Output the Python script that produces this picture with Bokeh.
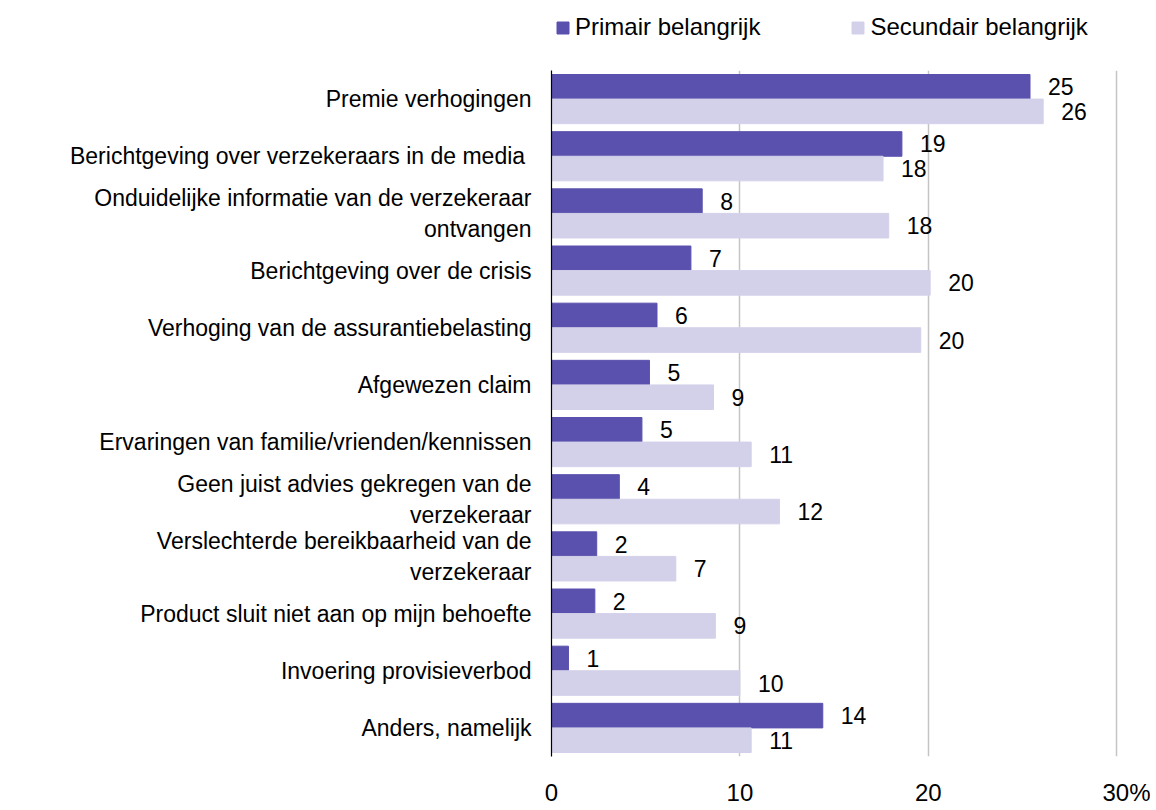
from bokeh.plotting import figure
from bokeh.models import ColumnDataSource, FactorRange, Range1d, FixedTicker, Legend, LegendItem
from bokeh.layouts import column
from bokeh.transform import dodge
from bokeh.core.properties import value
from bokeh.embed import file_html
from bokeh.resources import INLINE

categories = [
    "Premie verhogingen",
    "Berichtgeving over verzekeraars  in de media",
    "Onduidelijke informatie van de verzekeraar\nontvangen",
    "Berichtgeving over de crisis",
    "Verhoging van de assurantiebelasting",
    "Afgewezen claim",
    "Ervaringen van familie/vrienden/kennissen",
    "Geen juist advies gekregen van de\nverzekeraar",
    "Verslechterde bereikbaarheid van de\nverzekeraar",
    "Product sluit niet aan op mijn behoefte",
    "Invoering provisieverbod",
    "Anders, namelijk",
]
primair = [25.4, 18.6, 8.0, 7.4, 5.6, 5.2, 4.8, 3.6, 2.4, 2.3, 0.9, 14.4]
secundair = [26.1, 17.6, 17.9, 20.1, 19.6, 8.6, 10.6, 12.1, 6.6, 8.7, 10.0, 10.6]
primair_labels = ["25", "19", "8", "7", "6", "5", "5", "4", "2", "2", "1", "14"]
secundair_labels = ["26", "18", "18", "20", "20", "9", "11", "12", "7", "9", "10", "11"]
x_ticks = [0, 10, 20, 30]
tick_labels = {30: "\u00a0\u00a0\u00a030%"}
series_names = ["Primair belangrijk", "Secundair belangrijk"]

C1 = "#5A51AE"
C2 = "#D3D1EA"
FONT = "Liberation Sans"
W = 1150

src = ColumnDataSource(dict(cat=categories, p=primair, s=secundair,
                            pl=primair_labels, sl=secundair_labels))

# ---- main chart ----
p = figure(width=W, height=738, output_backend="svg", toolbar_location=None,
           y_range=FactorRange(factors=categories[::-1]), x_range=Range1d(0, 31),
           min_border_left=551, min_border_right=15, min_border_top=0, min_border_bottom=43)
p.outline_line_color = None

r1 = p.hbar(y=dodge("cat", 0.215, range=p.y_range), right="p", left=0, height=0.43,
            color=C1, source=src)
r2 = p.hbar(y=dodge("cat", -0.215, range=p.y_range), right="s", left=0, height=0.43,
            color=C2, source=src)

p.text(x="p", y=dodge("cat", 0.215, range=p.y_range), text="pl", x_offset=18,
       text_align="left", text_baseline="middle", text_font=value(FONT),
       text_font_size="23px", text_color="black", source=src)
p.text(x="s", y=dodge("cat", -0.215, range=p.y_range), text="sl", x_offset=18,
       text_align="left", text_baseline="middle", text_font=value(FONT),
       text_font_size="23px", text_color="black", source=src)

p.ygrid.grid_line_color = None
p.xgrid.ticker = FixedTicker(ticks=x_ticks)
p.xgrid.grid_line_color = "#C4C4C4"
p.xgrid.grid_line_width = 1.5

xa = p.xaxis[0]
xa.ticker = FixedTicker(ticks=x_ticks)
xa.major_label_overrides = tick_labels
xa.axis_line_color = None
xa.major_tick_line_color = None
xa.minor_tick_line_color = None
xa.major_label_standoff = 16
xa.major_label_text_font = FONT
xa.major_label_text_font_size = "24px"
xa.major_label_text_color = "black"

ya = p.yaxis[0]
ya.axis_line_color = "black"
ya.axis_line_width = 1.2
ya.major_tick_line_color = None
ya.minor_tick_line_color = None
ya.major_label_standoff = 14
ya.major_label_text_font = FONT
ya.major_label_text_font_size = "23px"
ya.major_label_text_color = "black"
ya.major_label_text_align = "right"

# ---- legend strip (its frame is aligned with the chart's frame by the column) ----
lf = figure(width=W, height=70, output_backend="svg", toolbar_location=None,
            x_range=Range1d(0, 1), y_range=Range1d(0, 1),
            x_axis_location=None, y_axis_location=None,
            min_border_left=0, min_border_right=0, min_border_top=0, min_border_bottom=0)
lf.outline_line_color = None
lf.grid.grid_line_color = None
# proxy bars placed outside the visible range, used only for the legend swatches
proxy = ColumnDataSource(dict(y=[-10.0], right=[0.5]))
g1 = lf.hbar(y="y", right="right", left=0, height=0.5, color=C1, source=proxy)
g2 = lf.hbar(y="y", right="right", left=0, height=0.5, color=C2, source=proxy)

legend = Legend(items=[LegendItem(label=series_names[0], renderers=[g1]),
                       LegendItem(label=series_names[1], renderers=[g2])],
                orientation="horizontal", location=(4, 29))
legend.glyph_width = 15
legend.glyph_height = 15
legend.label_standoff = 5
legend.spacing = 90
legend.padding = 0
legend.margin = 0
legend.border_line_color = None
legend.background_fill_alpha = 0
legend.label_text_font = FONT
legend.label_text_font_size = "24px"
legend.label_text_color = "black"
lf.add_layout(legend, "center")

open("out.html", "w").write(file_html(column(lf, p, spacing=0), INLINE))
